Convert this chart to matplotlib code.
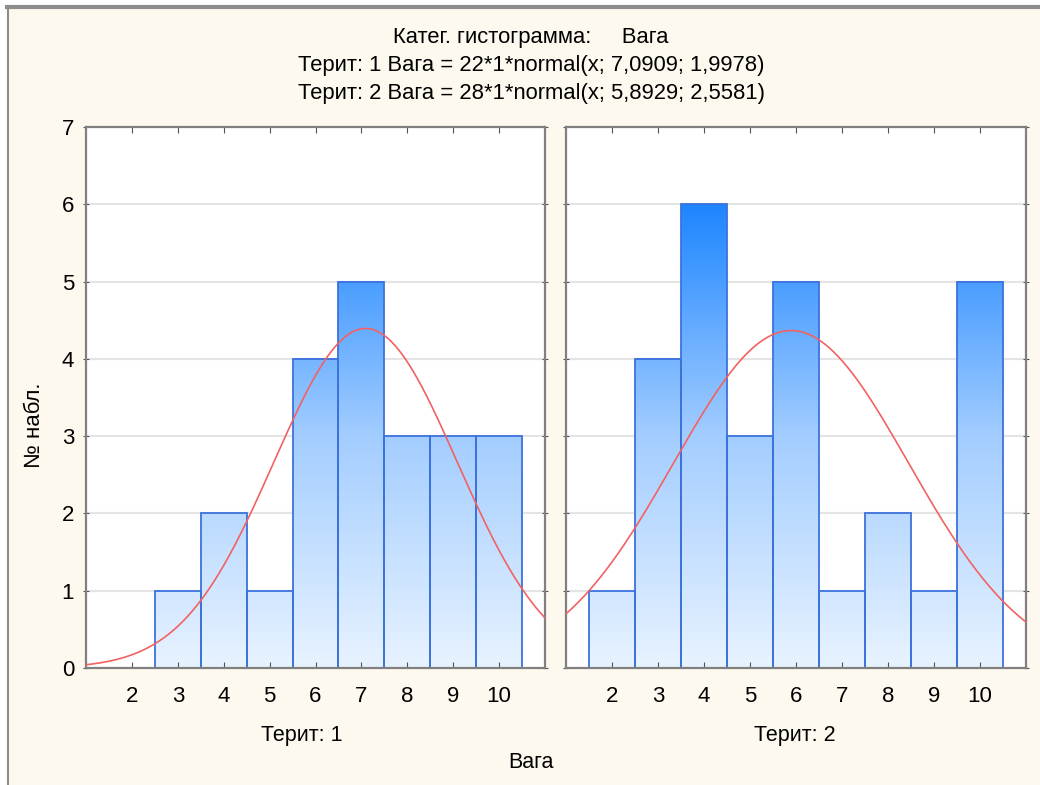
import numpy as np
import matplotlib.pyplot as plt
from matplotlib.patches import Rectangle
from matplotlib.colors import LinearSegmentedColormap, Normalize
from matplotlib.lines import Line2D

# data
bins = [1, 2, 3, 4, 5, 6, 7, 8, 9, 10]
counts_1 = [0, 0, 1, 2, 1, 4, 5, 3, 3, 3]
counts_2 = [0, 1, 4, 6, 3, 5, 1, 2, 1, 5]
n_1, mean_1, sd_1 = 22, 7.0909, 1.9978
n_2, mean_2, sd_2 = 28, 5.8929, 2.5581
panel_labels = ['Терит: 1', 'Терит: 2']
title_lines = ['Катег. гистограмма:     Вага',
               'Терит: 1 Вага = 22*1*normal(x; 7,0909; 1,9978)',
               'Терит: 2 Вага = 28*1*normal(x; 5,8929; 2,5581)']

cream = '#FEF9EF'
W, H = 1040, 785
fig = plt.figure(figsize=(W / 100, H / 100), dpi=100, facecolor='white')
fig.patches.append(Rectangle((8 / W, 0), 1 - 8 / W, 1 - 8 / H, transform=fig.transFigure,
                             facecolor=cream, edgecolor='none', zorder=-5))
fig.lines.append(Line2D([7 / W, 1], [1 - 7 / H, 1 - 7 / H], transform=fig.transFigure,
                        color='#8C8C8C', lw=3))
fig.lines.append(Line2D([8 / W, 8 / W], [0, 1 - 7 / H], transform=fig.transFigure,
                        color='#8C8C8C', lw=1.5))

cmap = LinearSegmentedColormap.from_list('grad', ['#E8F3FF', '#A3CDFF', '#1E86FF'])
norm = Normalize(0, 6)
edge = '#3C72DC'
fonts = ['Liberation Sans', 'DejaVu Sans']


def normal(x, n, m, s):
    return n * np.exp(-0.5 * ((x - m) / s) ** 2) / (s * np.sqrt(2 * np.pi))


boxes = [(86, 566), (545, 1026)]
label_x = [302, 795]
panels = [(counts_1, n_1, mean_1, sd_1), (counts_2, n_2, mean_2, sd_2)]
for i, (counts, n, m, s) in enumerate(panels):
    x0, x1 = boxes[0][i], boxes[1][i]
    ax = fig.add_axes([x0 / W, (H - 668) / H, (x1 - x0) / W, (668 - 127) / H])
    ax.set_facecolor('white')
    for y in range(1, 7):
        ax.axhline(y, color='#E4E4E4', lw=1.5, zorder=0)
    for b, c in zip(bins, counts):
        if c == 0:
            continue
        grad = np.linspace(0, c, 200).reshape(-1, 1)
        ax.imshow(grad, extent=(b - 0.5, b + 0.5, 0, c), origin='lower', aspect='auto',
                  cmap=cmap, norm=norm, zorder=1, interpolation='bilinear')
        ax.add_patch(Rectangle((b - 0.5, 0), 1, c, facecolor='none', edgecolor=edge,
                               lw=1.3, zorder=2))
    xs = np.linspace(1, 11, 400)
    ax.plot(xs, normal(xs, n, m, s), color='#F26262', lw=1.2, zorder=3)
    ax.set_xlim(1, 11)
    ax.set_ylim(0, 7)
    ax.set_xticks(range(2, 11))
    ax.set_yticks(range(0, 8))
    ax.tick_params(axis='x', direction='in', top=True, length=4, color='#555555',
                   labelsize=16, pad=13)
    ax.tick_params(axis='y', direction='inout', right=True, length=5, color='#555555',
                   labelsize=16, pad=6)
    for lab in ax.get_xticklabels() + ax.get_yticklabels():
        lab.set_family(fonts)
    if i == 1:
        ax.tick_params(axis='y', labelleft=False)
    for sp in ax.spines.values():
        sp.set_color('#808080')
        sp.set_linewidth(1.6)
    fig.text(label_x[i] / W, 1 - 735 / H, panel_labels[i], ha='center', va='center',
             fontsize=15.5, family=fonts)

for k, line in enumerate(title_lines):
    fig.text(531 / W, 1 - (37 + 28 * k) / H, line, ha='center', va='center',
             fontsize=15.8, family=fonts)
fig.text(531 / W, 1 - 763 / H, 'Вага', ha='center', va='center', fontsize=15.5, family=fonts)
fig.text(35 / W, 1 - 425 / H, '№ набл.', ha='center', va='center', rotation=90,
         fontsize=16, family=fonts)

fig.savefig('out.png', dpi=100, facecolor=fig.get_facecolor())
